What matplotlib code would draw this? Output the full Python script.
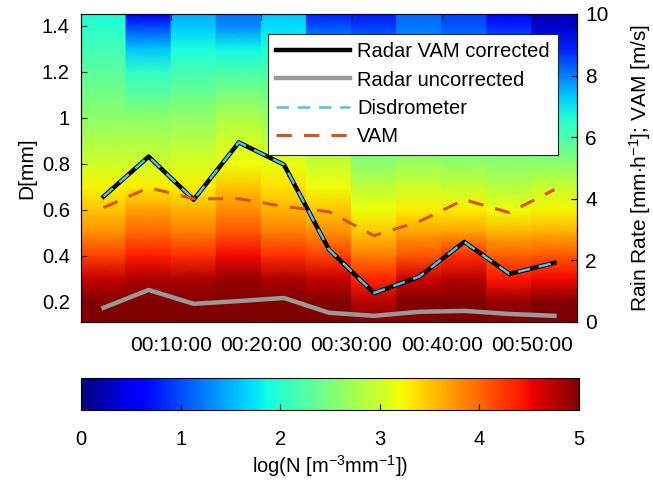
import numpy as np
import matplotlib
matplotlib.use("Agg")
import matplotlib.pyplot as plt
from matplotlib.ticker import FuncFormatter

plt.rcParams['font.family'] = ['Liberation Sans', 'DejaVu Sans']
plt.rcParams['mathtext.fontset'] = 'custom'
plt.rcParams['mathtext.rm'] = 'Liberation Sans'
plt.rcParams['mathtext.it'] = 'Liberation Sans'

# ---- data ----
time_min = [2.5, 7.5, 12.5, 17.5, 22.5, 27.5, 32.5, 37.5, 42.5, 47.5, 52.5]
time_ticks = [10, 20, 30, 40, 50]

D_knots = [0.1125, 0.2, 0.3, 0.4, 0.5, 0.6, 0.7, 0.8, 0.9, 1.0, 1.1, 1.2, 1.3, 1.4, 1.452]
logN_t01 = [5.5, 5.2, 4.7, 4.2, 3.8, 3.5, 3.25, 3.0, 2.8, 2.6, 2.45, 2.3, 2.15, 2.0, 1.95]
logN_t02 = [5.5, 5.3, 4.8, 4.4, 4.0, 3.7, 3.3, 3.0, 2.8, 2.6, 2.3, 2.05, 1.6, 0.95, 0.5]
logN_t03 = [5.5, 5.2, 4.8, 4.3, 3.9, 3.6, 3.3, 3.05, 2.85, 2.65, 2.4, 2.15, 1.9, 1.6, 1.5]
logN_t04 = [5.5, 5.3, 4.9, 4.5, 4.1, 3.8, 3.5, 3.2, 3.0, 2.8, 2.5, 2.2, 1.85, 1.3, 1.2]
logN_t05 = [5.5, 5.2, 4.8, 4.3, 3.9, 3.6, 3.35, 3.15, 2.9, 2.7, 2.45, 2.2, 1.95, 1.7, 1.6]
logN_t06 = [5.5, 5.1, 4.7, 4.2, 3.8, 3.5, 3.2, 2.95, 2.7, 2.5, 2.2, 1.9, 1.5, 1.0, 0.8]
logN_t07 = [5.3, 4.75, 4.35, 3.9, 3.5, 3.2, 2.9, 2.6, 2.35, 2.1, 1.85, 1.6, 1.3, 0.9, 0.75]
logN_t08 = [5.5, 5.2, 4.65, 4.1, 3.7, 3.3, 3.0, 2.7, 2.45, 2.2, 2.0, 1.75, 1.5, 1.2, 1.15]
logN_t09 = [5.5, 5.3, 4.75, 4.3, 3.7, 3.3, 2.95, 2.65, 2.35, 2.1, 1.85, 1.6, 1.35, 1.05, 0.95]
logN_t10 = [5.4, 4.9, 4.45, 4.05, 3.6, 3.2, 2.85, 2.6, 2.35, 2.1, 1.8, 1.5, 1.2, 0.8, 0.65]
logN_t11 = [5.5, 5.1, 4.5, 4.1, 3.65, 3.25, 2.95, 2.6, 2.25, 1.95, 1.6, 1.2, 0.8, 0.35, 0.2]

radar_vam_corrected = [4.07, 5.37, 3.97, 5.83, 5.11, 2.35, 0.94, 1.47, 2.6, 1.56, 1.92]
radar_uncorrected = [0.46, 1.04, 0.59, 0.68, 0.78, 0.3, 0.2, 0.33, 0.36, 0.26, 0.2]
disdrometer = [4.07, 5.37, 3.97, 5.83, 5.11, 2.35, 0.94, 1.47, 2.6, 1.56, 1.92]
vam = [3.71, 4.36, 4.0, 4.0, 3.75, 3.58, 2.8, 3.26, 3.97, 3.55, 4.3]

# ---- figure ----
fig = plt.figure(figsize=(6.53, 4.82), dpi=100)
ax = fig.add_axes([0.124, 0.332, 0.7596, 0.639])

cols = [logN_t01, logN_t02, logN_t03, logN_t04, logN_t05, logN_t06,
        logN_t07, logN_t08, logN_t09, logN_t10, logN_t11]
half = (time_min[1] - time_min[0]) / 2.0
Dk = np.array(D_knots)
mesh = None
for t, col in zip(time_min, cols):
    X = np.column_stack([np.full(len(Dk), t - half), np.full(len(Dk), t + half)])
    Y = np.column_stack([Dk, Dk])
    C = np.column_stack([col, col])
    mesh = ax.pcolormesh(X, Y, C, cmap='jet', vmin=0, vmax=5, shading='gouraud')

ax.set_xlim(time_min[0] - half, time_min[-1] + half)
ax.set_ylim(D_knots[0], D_knots[-1])
ax.set_xticks(time_ticks)
ax.xaxis.set_major_formatter(FuncFormatter(lambda v, p: "00:%02d:00" % int(round(v))))
ax.set_yticks([0.2, 0.4, 0.6, 0.8, 1.0, 1.2, 1.4])
ax.set_yticklabels(['0.2', '0.4', '0.6', '0.8', '1', '1.2', '1.4'])
ax.tick_params(axis='x', direction='in', labelsize=15, length=4, color='#262626',
               top=True, pad=10)
ax.tick_params(axis='y', direction='in', labelsize=14.5, length=4, color='#262626', pad=8)
ax.set_ylabel('D[mm]', fontsize=15, labelpad=4)
for s in ax.spines.values():
    s.set_color('#262626')
    s.set_linewidth(0.8)

ax2 = ax.twinx()
ax2.plot(time_min, radar_vam_corrected, color='black', lw=3.2, label='Radar VAM corrected')
ax2.plot(time_min, radar_uncorrected, color='#999999', lw=3.2, label='Radar uncorrected')
ax2.plot(time_min, disdrometer, color='#4DBEEE', lw=1.8, ls=(0, (5, 3.5)), label='Disdrometer')
ax2.plot(time_min, vam, color='#D95319', lw=2.2, ls=(0, (5, 4)), label='VAM')
ax2.set_ylim(0, 10)
ax2.set_yticks([0, 2, 4, 6, 8, 10])
ax2.tick_params(direction='in', labelsize=15, length=4, pad=6)
ax2.set_ylabel('Rain Rate [mm$\\cdot$h$^{-1}$]; VAM [m/s]', fontsize=15, labelpad=13)

leg = ax2.legend(loc='upper right', bbox_to_anchor=(0.9617, 0.935), fontsize=14.5,
                 frameon=True, fancybox=False, edgecolor='#262626', framealpha=1,
                 handlelength=3.7, labelspacing=0.47, borderpad=0.4, handletextpad=0.35,
                 borderaxespad=0)
leg.get_frame().set_linewidth(0.8)

cax = fig.add_axes([0.124, 0.149, 0.7626, 0.067])
cb = fig.colorbar(mesh, cax=cax, orientation='horizontal', ticks=[0, 1, 2, 3, 4, 5])
cb.ax.tick_params(direction='in', labelsize=14.5, length=4, pad=14)
cb.outline.set_linewidth(0.8)
cb.set_label('log(N [m$^{-3}$mm$^{-1}$])', fontsize=14.5, labelpad=3)

fig.savefig('out.png', dpi=100)
